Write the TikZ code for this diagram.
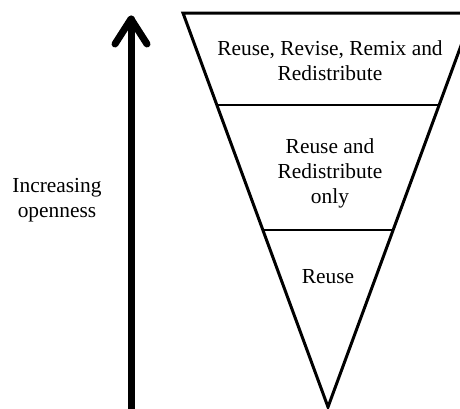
\documentclass[tikz,border=0pt]{standalone}
\usepackage{fontspec}
\setmainfont{Liberation Serif}
\tikzset{
  layertext/.style={align=center, inner sep=0pt, font=\fontsize{10.7}{12.5}\selectfont},
  edge/.style={black, line width=1.5pt, line join=miter},
  divider/.style={black, line width=1.1pt},
  openarrow/.style={black, line width=3.5pt, line cap=round, line join=round}
}
\begin{document}
\begin{tikzpicture}[x=0.5pt,y=-0.5pt]
\useasboundingbox (0,0) rectangle (460,408);

% funnel:
\coordinate (topleft) at (183,13);
\coordinate (topright) at (473,13);
\coordinate (apex) at (328,407);
\draw[edge] (topleft) -- (topright) -- (apex) -- cycle;
\draw[divider] (216.9,105) -- (439.1,105);
\draw[divider] (262.9,230) -- (393.1,230);

% labels:
\node[layertext] (remix) at (330,60.5) {Reuse, Revise, Remix and\\Redistribute};
\node[layertext] (redistribute) at (330,173.5) {Reuse and\\Redistribute\\only};
\node[layertext] (reuse) at (328,277) {Reuse};
\node[layertext] (openness) at (57,200.5) {Increasing\\openness};

% arrow:
\coordinate (base) at (131,412);
\coordinate (tip) at (131,19);
\draw[openarrow] (base) -- (tip);
\draw[openarrow] (115,44) -- (tip) -- (147,44);

\end{tikzpicture}
\end{document}
